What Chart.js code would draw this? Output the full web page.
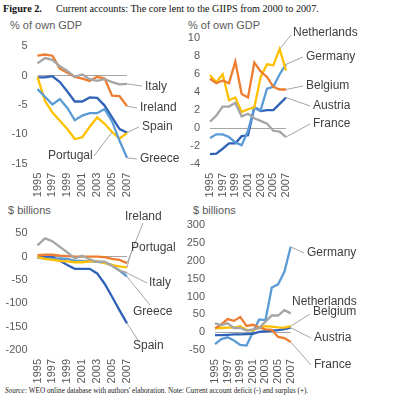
<!DOCTYPE html>
<html><head><meta charset="utf-8">
<script src="https://cdn.jsdelivr.net/npm/chart.js@4.4.1/dist/chart.umd.min.js"></script>
<style>
html,body{margin:0;padding:0;background:#fff;}
body{width:400px;height:398px;position:relative;overflow:hidden;font-family:"Liberation Sans",Arial,sans-serif;}
canvas{position:absolute;}
.t{position:absolute;white-space:nowrap;line-height:1;}
</style></head><body>
<div class="t" style="left:3px;top:3px;font:10.2px 'Liberation Serif',serif;color:#111"><b>Figure 2.</b><span style="margin-left:14px">Current accounts: The core lent to the GIIPS from 2000 to 2007.</span></div>
<div class="t" style="left:10px;top:19px;font:11px 'Liberation Sans',Arial;color:#595959">% of own GDP</div>
<div class="t" style="left:188px;top:19px;font:11px 'Liberation Sans',Arial;color:#595959">% of own GDP</div>
<div class="t" style="left:8px;top:204px;font:11px 'Liberation Sans',Arial;color:#595959">$ billions</div>
<div class="t" style="left:193px;top:204px;font:11px 'Liberation Sans',Arial;color:#595959">$ billions</div>
<div class="t" style="left:5px;top:387px;font:7.2px 'Liberation Serif',serif;color:#222"><i>Source:</i> WEO online database with authors' elaboration. Note: Current account deficit (-) and surplus (+).</div>
<canvas id="tl" width="200" height="190" style="left:0;top:20px"></canvas>
<canvas id="tr" width="224" height="190" style="left:176px;top:20px"></canvas>
<canvas id="bl" width="200" height="185" style="left:0;top:205px"></canvas>
<canvas id="br" width="224" height="185" style="left:176px;top:205px"></canvas>
<script>
// ---- Data ----
const years = ['1995','1996','1997','1998','1999','2000','2001','2002','2003','2004','2005','2006','2007'];

// Top-left: GIIPS, % of own GDP
const italyPct    = [2.1, 3.0, 2.7, 1.6, 0.8, -0.2, 0.2, -0.6, -0.9, -0.6, -1.1, -1.5, -1.4];
const irelandPct  = [3.4, 3.6, 3.4, 1.2, 0.5, -0.2, -0.5, -0.9, -0.2, -0.5, -3.4, -3.5, -5.2];
const spainPct    = [-0.3, -0.3, -0.1, -1.1, -2.7, -4.4, -4.4, -3.7, -3.8, -5.1, -7.1, -9.1, -9.7];
const greecePct   = [-2.3, -3.6, -4.9, -4.0, -5.5, -7.6, -6.8, -6.4, -6.4, -5.7, -7.8, -11.1, -14.0];
const portugalPct = [-0.2, -4.3, -6.3, -7.7, -9.1, -10.8, -10.5, -8.7, -7.1, -8.2, -9.6, -10.7, -9.8];

// Top-right: core, % of own GDP
const netherlandsPct = [5.9, 5.1, 6.0, 3.1, 3.4, 1.8, 2.1, 2.3, 5.7, 7.1, 7.0, 8.8, 6.4];
const germanyPct     = [-1.1, -0.7, -0.7, -1.0, -1.6, -1.9, -0.3, 2.3, 2.0, 4.4, 4.6, 6.0, 7.1];
const belgiumPct     = [5.5, 5.0, 5.3, 5.0, 7.4, 3.8, 3.4, 7.3, 6.3, 5.7, 4.6, 4.3, 4.3];
const austriaPct     = [-2.9, -2.85, -2.3, -1.7, -1.7, -0.9, -0.8, 2.3, 1.9, 2.0, 2.0, 2.7, 3.4];
const francePct      = [0.7, 1.4, 2.4, 2.4, 2.8, 1.3, 1.6, 1.1, 0.8, 0.5, -0.3, -0.4, -1.0];

// Bottom-left: GIIPS, $ billions
const irelandUsd  = [3, 4, 4, 2, 1, 0, 0, 0, 0, -1, -5, -7, -14];
const portugalUsd = [-1, -5, -7, -9, -10, -12, -12, -10, -10, -14, -18, -21, -23];
const italyUsd    = [24, 39, 33, 21, 9, -4, 2, -6, -11, -11, -20, -30, -35];
const greeceUsd   = [-2, -4, -5, -4, -5, -9, -9, -10, -11, -13, -18, -30, -43];
const spainUsd    = [-2, -1, 0, -9, -18, -26, -26, -26, -36, -58, -86, -115, -143];

// Bottom-right: core, $ billions
const germanyUsd     = [-33, -19, -14, -23, -35, -37, 0, 36, 34, 125, 134, 169, 239];
const netherlandsUsd = [25, 20, 25, 12, 12, 5, 8, 12, 30, 47, 47, 62, 53];
const belgiumUsd     = [11, 12, 13, 13, 17, 7, 5, 13, 17, 16, 14, 13, 17];
const austriaUsd     = [-8, -8, -7, -6, -6, -5, -4, 1, 3, 5, 6, 9, 13];
const franceUsd      = [11, 22, 37, 32, 43, 18, 21, 14, 8, 7, -13, -16, -27];

// ---- Styles ----
const C = {gray:'#A5A5A5', orange:'#ED7D31', yellow:'#FFC000', lblue:'#5B9BD5', dblue:'#3062B8'};
const FONT = '"Liberation Sans", Arial, sans-serif';

const labelPlugin = {
  id: 'seriesLabels',
  afterDatasetsDraw(chart) {
    const o = chart.options.plugins.seriesLabels;
    if (!o) return;
    const ctx = chart.ctx, xs = chart.scales.x, ys = chart.scales.y;
    ctx.save();
    o.items.forEach(it => {
      const ds = chart.data.datasets[it.ds];
      if (it.lx !== undefined) {
        const px = xs.getPixelForValue(it.idx), py = ys.getPixelForValue(ds.data[it.idx]);
        ctx.strokeStyle = '#A6A6A6'; ctx.lineWidth = 1;
        ctx.beginPath(); ctx.moveTo(it.lx - o.ox, it.ly - o.oy); ctx.lineTo(px, py); ctx.stroke();
      }
      ctx.fillStyle = '#404040'; ctx.font = '12px ' + FONT;
      ctx.textAlign = 'left'; ctx.textBaseline = 'middle';
      ctx.fillText(ds.label, it.x - o.ox, it.y - o.oy);
    });
    ctx.restore();
  }
};

function makePanel(id, off, geo, yc, series, items) {
  new Chart(document.getElementById(id), {
    type: 'line',
    data: {
      labels: years,
      datasets: series.map(s => ({label: s[0], data: s[1], borderColor: s[2], backgroundColor: s[2],
        borderWidth: 2.3, pointRadius: 0, tension: 0, fill: false}))
    },
    options: {
      responsive: false, animation: false, devicePixelRatio: 1,
      layout: {padding: {left: 0, right: geo.r, top: geo.t, bottom: geo.b}},
      plugins: {legend: {display: false}, tooltip: {enabled: false},
        seriesLabels: {ox: off[0], oy: off[1], items: items}},
      scales: {
        x: {type: 'category', offset: false,
          grid: {display: false, drawTicks: false}, border: {display: false},
          ticks: {autoSkip: false, minRotation: 90, maxRotation: 90, padding: 9,
            color: '#595959', font: {family: FONT, size: 11},
            callback: (v, i) => (i % 2 === 0 ? years[i] : '')},
          afterFit: s => { s.height = geo.xH; }},
        y: {min: yc[0], max: yc[1],
          grid: {drawTicks: false, lineWidth: 1,
            color: c => (c.tick && c.tick.value === 0 ? '#A6A6A6' : 'rgba(0,0,0,0)')},
          border: {display: false},
          ticks: {stepSize: yc[2], padding: 10, color: '#595959', font: {family: FONT, size: 11}},
          afterFit: s => { s.width = geo.yW; }}
      }
    },
    plugins: [labelPlugin]
  });
}

makePanel('tl', [0, 20], {yW: 37.5, r: 73, t: 26.3, xH: 40, b: 6.3}, [-15, 5, 5],
  [['Italy', italyPct, C.gray], ['Ireland', irelandPct, C.orange], ['Greece', greecePct, C.lblue],
   ['Portugal', portugalPct, C.yellow], ['Spain', spainPct, C.dblue]],
  [{ds: 0, idx: 12, x: 145, y: 87, lx: 142, ly: 86},
   {ds: 1, idx: 12, x: 140, y: 108, lx: 137, ly: 108},
   {ds: 4, idx: 12, x: 142, y: 127, lx: 139, ly: 127},
   {ds: 3, idx: 10, x: 48, y: 156, lx: 94, ly: 156},
   {ds: 2, idx: 12, x: 140, y: 159, lx: 137, ly: 159}]);

makePanel('tr', [176, 20], {yW: 34, r: 114, t: 18.3, xH: 40, b: 6}, [-4, 10, 2],
  [['France', francePct, C.gray], ['Belgium', belgiumPct, C.orange], ['Netherlands', netherlandsPct, C.yellow],
   ['Germany', germanyPct, C.lblue], ['Austria', austriaPct, C.dblue]],
  [{ds: 2, idx: 11, x: 293, y: 33, lx: 291, ly: 35},
   {ds: 3, idx: 12, x: 306, y: 57, lx: 303, ly: 57},
   {ds: 1, idx: 12, x: 306, y: 86, lx: 303, ly: 86},
   {ds: 4, idx: 12, x: 313, y: 106, lx: 310, ly: 106},
   {ds: 0, idx: 12, x: 313, y: 124, lx: 310, ly: 124}]);

makePanel('bl', [0, 205], {yW: 37.5, r: 73, t: 28.3, xH: 34, b: 6}, [-200, 50, 50],
  [['Italy', italyUsd, C.gray], ['Ireland', irelandUsd, C.orange], ['Portugal', portugalUsd, C.yellow],
   ['Greece', greeceUsd, C.lblue], ['Spain', spainUsd, C.dblue]],
  [{ds: 1, idx: 12, x: 125, y: 217, lx: 143, ly: 223},
   {ds: 2, idx: 12, x: 131, y: 248, lx: 131, ly: 253},
   {ds: 0, idx: 12, x: 149, y: 283, lx: 147, ly: 283},
   {ds: 3, idx: 12, x: 133, y: 312, lx: 150, ly: 305},
   {ds: 4, idx: 12, x: 133, y: 346, lx: 138, ly: 340}]);

makePanel('br', [176, 205], {yW: 39, r: 109.3, t: 20, xH: 34, b: 5.8}, [-50, 300, 50],
  [['Netherlands', netherlandsUsd, C.gray], ['France', franceUsd, C.orange], ['Belgium', belgiumUsd, C.yellow],
   ['Austria', austriaUsd, C.dblue], ['Germany', germanyUsd, C.lblue]],
  [{ds: 4, idx: 12, x: 307, y: 253, lx: 304, ly: 253},
   {ds: 0, idx: 12, x: 292, y: 302},
   {ds: 2, idx: 12, x: 313, y: 312, lx: 310, ly: 314},
   {ds: 3, idx: 12, x: 314, y: 338, lx: 311, ly: 338},
   {ds: 1, idx: 12, x: 314, y: 365, lx: 311, ly: 365}]);
</script>
</body></html>
